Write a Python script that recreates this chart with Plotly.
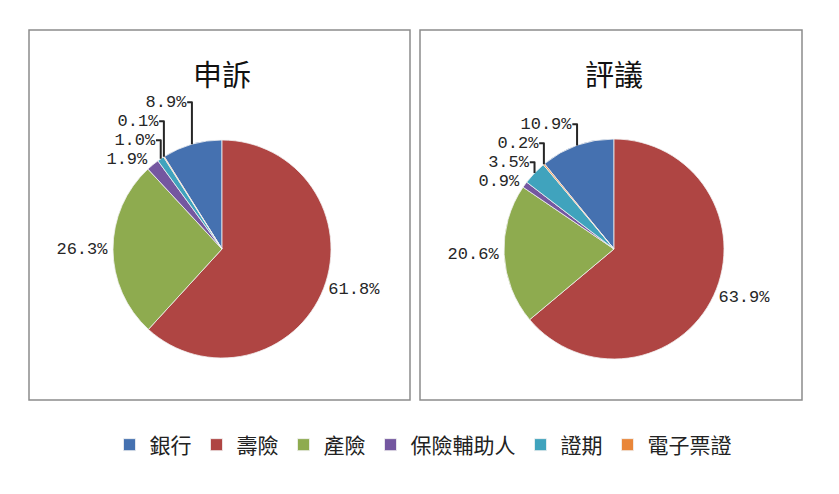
import plotly.graph_objects as go

# categories in legend order
categories = ["銀行", "壽險", "產險", "保險輔助人", "證期", "電子票證"]
colors = ["#4571B0", "#AF4543", "#8EAB4F", "#7457A0", "#40A3BD", "#E98639"]

# shares (%)
complaint = [8.9, 61.8, 26.3, 1.9, 1.0, 0.1]
mediation = [10.9, 63.9, 20.6, 0.9, 3.5, 0.2]

titles = ["申訴", "評議"]

W, H = 839, 494
OFF = 8  # page body margin
FONT_NUM = "Liberation Mono, Noto Sans CJK TC"
FONT_CJK = "Noto Sans CJK TC"


def px_x(v):
    return (v - OFF) / W


def px_y(v):
    return 1 - (v - OFF) / H


def pie(values, cx, cy, r, show_legend):
    # first slice (銀行) ends at 12 o'clock, rest run clockwise from there
    rot = -360 * values[0] / sum(values)
    return go.Pie(
        labels=categories,
        values=values,
        text=[f"{v:.1f}%" for v in values],
        textinfo="text",
        textposition="outside",
        outsidetextfont=dict(family=FONT_NUM, size=17, color="#262626"),
        marker=dict(colors=colors, line=dict(color="#F2F2F2", width=0.8)),
        sort=False,
        direction="clockwise",
        rotation=rot,
        hole=0,
        domain=dict(x=[px_x(cx - r), px_x(cx + r)], y=[px_y(cy + r), px_y(cy - r)]),
        showlegend=show_legend,
        automargin=False,
    )


fig = go.Figure()
fig.add_trace(pie(complaint, 222, 249, 109, True))
fig.add_trace(pie(mediation, 614, 249, 110, False))

# boxes round each pie
for x0, x1 in [(29, 410), (420, 802)]:
    fig.add_shape(
        type="rect", xref="paper", yref="paper",
        x0=px_x(x0), x1=px_x(x1), y0=px_y(400), y1=px_y(30),
        line=dict(color="#8C8C8C", width=1.5),
    )

for t, cx in zip(titles, [222, 614]):
    fig.add_annotation(
        text=t, xref="paper", yref="paper",
        x=px_x(cx), y=px_y(73), xanchor="center", yanchor="middle",
        showarrow=False,
        font=dict(family=FONT_CJK, size=29, color="#111111"),
    )

fig.update_layout(
    width=W,
    height=H,
    margin=dict(l=0, r=0, t=0, b=0),
    paper_bgcolor="white",
    plot_bgcolor="white",
    legend=dict(
        orientation="h",
        x=px_x(423), xanchor="center",
        y=px_y(445), yanchor="middle",
        font=dict(family=FONT_CJK, size=21, color="#222222"),
        itemwidth=30,
        tracegroupgap=0,
    ),
)

fig.write_html("out.html")
